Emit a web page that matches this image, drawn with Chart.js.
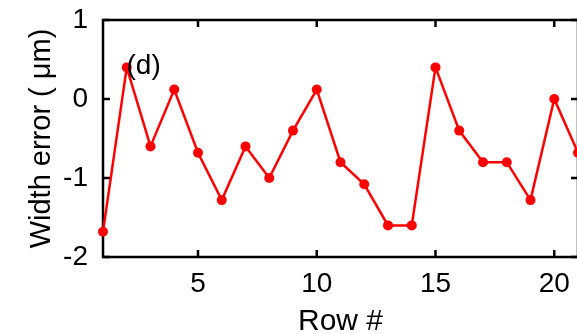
<!DOCTYPE html>
<html>
<head>
<meta charset="utf-8">
<script src="https://cdn.jsdelivr.net/npm/chart.js@4.4.0/dist/chart.umd.min.js"></script>
<style>
  html, body { margin: 0; padding: 0; background: #fff; overflow: hidden; }
  #wrap { width: 577px; height: 334px; overflow: hidden; }
</style>
</head>
<body>
<div id="wrap"><canvas id="myChart" width="590" height="334"></canvas></div>
<script>
// rows and width error (um)
const rows = [1, 2, 3, 4, 5, 6, 7, 8, 9, 10, 11, 12, 13, 14, 15, 16, 17, 18, 19, 20, 21];
const widthError = [-1.68, 0.4, -0.6, 0.12, -0.68, -1.28, -0.6, -1.0, -0.4, 0.12,
                    -0.8, -1.08, -1.6, -1.6, 0.4, -0.4, -0.8, -0.8, -1.28, 0.0, -0.68];
const xTicks = [5, 10, 15, 20];
const yTicks = [-2, -1, 0, 1];
const panelLabel = "(d)";

const fontFamily = "'Liberation Sans', Arial, sans-serif";

// black box around the plot with inward ticks on all four sides
const framePlugin = {
  id: 'frame',
  beforeDatasetsDraw(chart) {
    const ctx = chart.ctx;
    const a = chart.chartArea;
    const xs = chart.scales.x, ys = chart.scales.y;
    const tl = 7;
    ctx.save();
    ctx.strokeStyle = '#000';
    ctx.lineWidth = 2.5;
    ctx.strokeRect(a.left, a.top, a.right - a.left, a.bottom - a.top);
    ctx.beginPath();
    xTicks.forEach(v => {
      const px = xs.getPixelForValue(v);
      ctx.moveTo(px, a.bottom); ctx.lineTo(px, a.bottom - tl);
      ctx.moveTo(px, a.top); ctx.lineTo(px, a.top + tl);
    });
    yTicks.forEach(v => {
      const py = ys.getPixelForValue(v);
      ctx.moveTo(a.left, py); ctx.lineTo(a.left + tl, py);
      ctx.moveTo(a.right, py); ctx.lineTo(a.right - tl, py);
    });
    ctx.stroke();
    ctx.restore();
  },
  afterDatasetsDraw(chart) {
    const ctx = chart.ctx;
    ctx.save();
    ctx.fillStyle = '#000';
    ctx.font = '28px ' + fontFamily;
    ctx.textAlign = 'left';
    ctx.textBaseline = 'middle';
    ctx.fillText(panelLabel, chart.scales.x.getPixelForValue(1.99), chart.scales.y.getPixelForValue(0.41));
    ctx.restore();
  }
};

const myChart = document.getElementById("myChart");

let lineChart = new Chart(myChart, {
  type: 'line',
  data: {
    datasets: [{
      data: rows.map((r, i) => ({x: r, y: widthError[i]})),
      borderColor: '#ff0000',
      backgroundColor: '#ff0000',
      borderWidth: 2.5,
      pointRadius: 5,
      pointBorderWidth: 0,
      pointBackgroundColor: '#ff0000',
      tension: 0,
      clip: false
    }]
  },
  options: {
    responsive: false,
    animation: false,
    events: [],
    layout: { padding: { top: 20, right: 12, left: 0, bottom: 0 } },
    plugins: { legend: { display: false }, tooltip: { enabled: false } },
    scales: {
      x: {
        type: 'linear',
        min: 1,
        max: 21,
        afterBuildTicks: s => { s.ticks = xTicks.map(v => ({value: v})); },
        afterFit: s => { s.height = 77; s.paddingLeft = 0; s.paddingRight = 0; },
        grid: { display: false, drawTicks: false },
        border: { display: false },
        ticks: { color: '#000', padding: 10, maxRotation: 0, font: { size: 28, family: fontFamily } },
        title: { display: true, text: 'Row #', color: '#000', padding: { top: 0, bottom: 0 }, font: { size: 30, family: fontFamily, lineHeight: 0.85 } }
      },
      y: {
        min: -2,
        max: 1,
        afterBuildTicks: s => { s.ticks = yTicks.map(v => ({value: v})); },
        afterFit: s => { s.width = 103; s.paddingTop = 0; s.paddingBottom = 0; },
        grid: { display: false, drawTicks: false },
        border: { display: false },
        ticks: { color: '#000', padding: 15, font: { size: 28, family: fontFamily } },
        title: { display: true, text: 'Width error ( μm)', color: '#000', padding: { top: 25, bottom: 0 }, font: { size: 29, family: fontFamily } }
      }
    }
  },
  plugins: [framePlugin]
});
</script>
</body>
</html>
